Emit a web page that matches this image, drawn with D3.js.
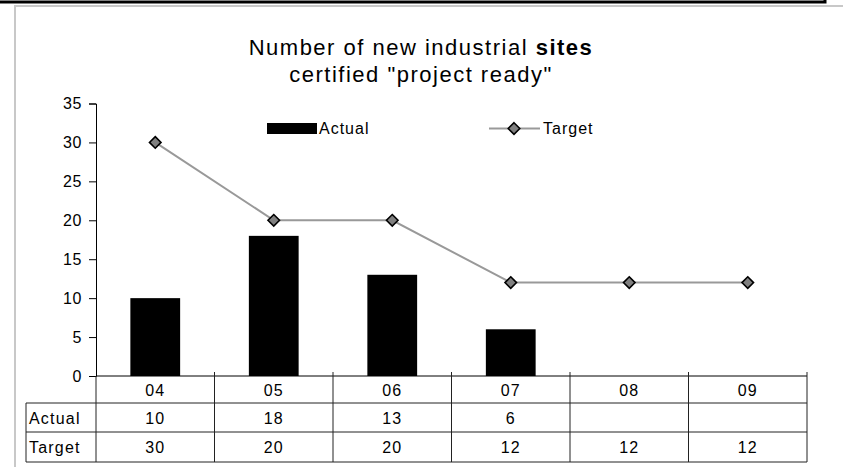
<!DOCTYPE html>
<html>
<head>
<meta charset="utf-8">
<script src="https://cdn.jsdelivr.net/npm/d3@7"></script>
<style>
  body { margin: 0; background: #fff; }
  text { font-family: "Liberation Sans", Arial, sans-serif; fill: #000; }
</style>
</head>
<body>
<div id="chart"></div>
<script>
const categories = ["04", "05", "06", "07", "08", "09"]
const actual = [10, 18, 13, 6, null, null]
const target = [30, 20, 20, 12, 12, 12]
const yTicks = [0, 5, 10, 15, 20, 25, 30, 35]

const W = 843, H = 467
const plot = {left: 96, right: 807, top: 103.5, bottom: 376}
const rowY = [376, 403, 432, 462]
const labelLeft = 26

const svg = d3.select("#chart").append("svg")
    .attr("width", W).attr("height", H)

// outer frames
svg.append("rect")
    .attr("x", -5).attr("y", -10).attr("width", 830).attr("height", 12)
    .attr("fill", "none").attr("stroke", "#000").attr("stroke-width", 3)
svg.append("rect")
    .attr("x", 15).attr("y", 6).attr("width", 840).attr("height", 470)
    .attr("fill", "none").attr("stroke", "#c8c8c8").attr("stroke-width", 2)

// title
const title = svg.append("text")
    .attr("x", 421).attr("text-anchor", "middle")
    .style("font-size", "22px").style("letter-spacing", "1.5px")
title.append("tspan").attr("x", 421).attr("y", 55).text("Number of new industrial ")
    .append("tspan").style("font-weight", "bold").text("sites")
title.append("tspan").attr("x", 421).attr("y", 82).text('certified "project ready"')

let x = d3.scaleBand()
    .domain(categories)
    .range([plot.left, plot.right])

let y = d3.scaleLinear()
    .domain([0, 35])
    .range([plot.bottom, plot.top])

// y axis
let yAxis = svg.append("g")
    .attr("transform", "translate(" + plot.left + ",0)")
    .call(d3.axisLeft(y).tickValues(yTicks).tickSize(7).tickPadding(7))
yAxis.attr("font-size", null).attr("font-family", null)
yAxis.select(".domain").attr("stroke", "#000")
yAxis.selectAll("text").style("font-size", "16px").style("letter-spacing", "0.6px")

// bars
svg.selectAll(".bar")
    .data(categories.map((c, i) => ({c: c, v: actual[i]})).filter(d => d.v != null))
    .enter().append("rect")
    .attr("x", d => x(d.c) + x.bandwidth() * 0.29)
    .attr("width", x.bandwidth() * 0.42)
    .attr("y", d => y(d.v))
    .attr("height", d => y(0) - y(d.v))
    .attr("fill", "#000")

// target line
const tData = categories.map((c, i) => ({c: c, v: target[i]}))
svg.append("path")
    .datum(tData)
    .attr("fill", "none")
    .attr("stroke", "#999")
    .attr("stroke-width", 2)
    .attr("d", d3.line()
        .x(d => x(d.c) + x.bandwidth() / 2)
        .y(d => y(d.v)))

const diamond = d3.symbol().type(d3.symbolDiamond2).size(85)
svg.selectAll(".marker")
    .data(tData)
    .enter().append("path")
    .attr("transform", d => "translate(" + (x(d.c) + x.bandwidth() / 2) + "," + y(d.v) + ")")
    .attr("d", diamond)
    .attr("fill", "#808080")
    .attr("stroke", "#000")
    .attr("stroke-width", 1.6)

// legend
svg.append("rect")
    .attr("x", 267).attr("y", 123).attr("width", 50).attr("height", 11)
    .attr("fill", "#000")
svg.append("text").attr("x", 319).attr("y", 134)
    .style("font-size", "16px").style("letter-spacing", "1px").text("Actual")
svg.append("line")
    .attr("x1", 489).attr("x2", 540).attr("y1", 128.5).attr("y2", 128.5)
    .attr("stroke", "#999").attr("stroke-width", 2)
svg.append("path")
    .attr("transform", "translate(514,128.5)")
    .attr("d", diamond)
    .attr("fill", "#808080").attr("stroke", "#000").attr("stroke-width", 1.6)
svg.append("text").attr("x", 543).attr("y", 134)
    .style("font-size", "16px").style("letter-spacing", "1px").text("Target")

// data table
const tbl = svg.append("g").attr("stroke", "#222").attr("stroke-width", 1)
tbl.append("line").attr("x1", plot.left).attr("x2", plot.right)
    .attr("y1", rowY[0]).attr("y2", rowY[0]).attr("stroke", "#000")
rowY.slice(1).forEach(ry => {
    tbl.append("line").attr("x1", labelLeft).attr("x2", plot.right)
        .attr("y1", ry).attr("y2", ry)
})
tbl.append("line").attr("x1", labelLeft).attr("x2", labelLeft)
    .attr("y1", rowY[1]).attr("y2", rowY[3])
tbl.append("line").attr("x1", plot.left).attr("x2", plot.left)
    .attr("y1", rowY[0]).attr("y2", rowY[3])
categories.forEach(c => {
    tbl.append("line").attr("x1", x(c) + x.bandwidth()).attr("x2", x(c) + x.bandwidth())
        .attr("y1", rowY[0] - 4).attr("y2", rowY[3])
})

const rows = [categories, actual, target]
rows.forEach((vals, r) => {
    svg.selectAll(".cell" + r)
        .data(categories.map((c, i) => ({c: c, v: vals[i]})).filter(d => d.v != null))
        .enter().append("text")
        .attr("x", d => x(d.c) + x.bandwidth() / 2)
        .attr("y", (rowY[r] + rowY[r + 1]) / 2 + 6)
        .attr("text-anchor", "middle")
        .style("font-size", "16px").style("letter-spacing", "1px")
        .text(d => d.v)
})
svg.append("text").attr("x", labelLeft + 3).attr("y", (rowY[1] + rowY[2]) / 2 + 6)
    .style("font-size", "16px").style("letter-spacing", "1.2px").text("Actual")
svg.append("text").attr("x", labelLeft + 3).attr("y", (rowY[2] + rowY[3]) / 2 + 6)
    .style("font-size", "16px").style("letter-spacing", "1.2px").text("Target")
</script>
</body>
</html>
